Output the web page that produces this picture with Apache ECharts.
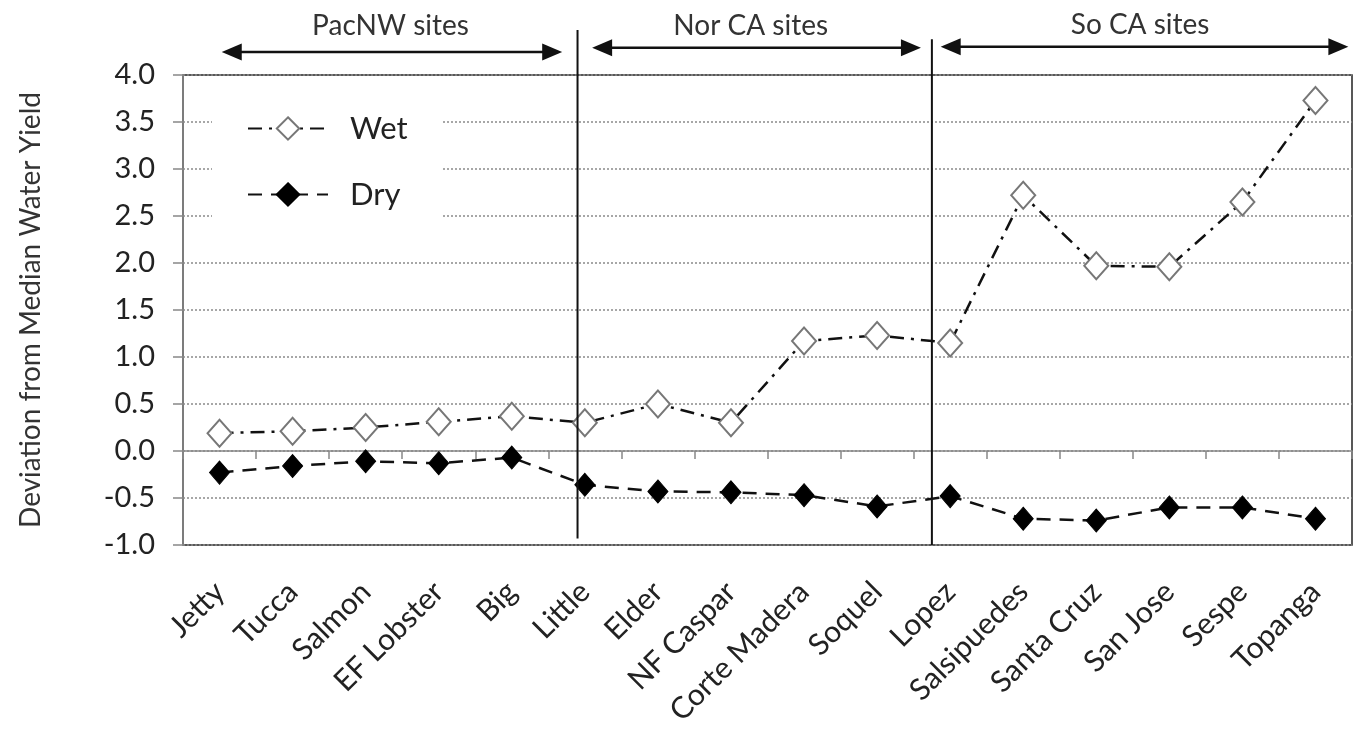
<!DOCTYPE html>
<html>
<head>
<meta charset="utf-8">
<script src="https://cdn.jsdelivr.net/npm/echarts@6/dist/echarts.min.js"></script>
<style>
html,body{margin:0;padding:0;background:#fff;}
#main{width:1363px;height:735px;}
</style>
</head>
<body>
<div id="main"></div>
<script>
// ---- data ----
const categories = ['Jetty','Tucca','Salmon','EF Lobster','Big','Little','Elder','NF Caspar','Corte Madera','Soquel','Lopez','Salsipuedes','Santa Cruz','San Jose','Sespe','Topanga'];
const wetValues = [0.19, 0.21, 0.25, 0.31, 0.37, 0.30, 0.50, 0.30, 1.17, 1.23, 1.15, 2.72, 1.97, 1.96, 2.65, 3.73];
const dryValues = [-0.23, -0.16, -0.11, -0.13, -0.07, -0.36, -0.43, -0.44, -0.47, -0.59, -0.48, -0.72, -0.74, -0.60, -0.60, -0.72];
const yTicks = {min: -1.0, max: 4.0, interval: 0.5};
const yAxisTitle = 'Deviation from Median Water Yield';
// region annotations (in category-index units along x, value units along y)
const groupLabels = ['PacNW sites', 'Nor CA sites', 'So CA sites'];
const groupLabelX = [2.84, 7.77, 13.1];
const groupLabelY = [4.52, 4.52, 4.53];
const groupArrows = [[0.53, 5.19, 4.245], [5.60, 10.10, 4.29], [10.37, 15.95, 4.30]];
const dividers = [[5.40, 4.48, -0.93], [10.25, 4.38, -1.0]];

const FONT = 'Lato';
const chart = echarts.init(document.getElementById('main'));

const option = {
  backgroundColor: '#fff',
  animation: false,
  textStyle: {fontFamily: FONT},
  grid: {left: 183, right: 11, top: 75, bottom: 190, show: true, borderColor: '#222', borderWidth: 1.5, backgroundColor: 'transparent'},
  legend: {
    data: ['Wet', 'Dry'],
    orient: 'vertical',
    left: 212, top: 95,
    padding: [18, 35, 30, 35],
    itemWidth: 80, itemHeight: 28, itemGap: 35,
    backgroundColor: '#fff',
    textStyle: {fontSize: 31, color: '#222', fontFamily: FONT, padding: [0, 0, 0, 17]}
  },
  xAxis: [{
    type: 'category',
    data: categories,
    boundaryGap: true,
    axisLine: {show: true, lineStyle: {color: '#888', width: 1.5}},
    axisTick: {show: true, length: 8, lineStyle: {color: '#888', width: 1.5}},
    axisLabel: {rotate: 45, fontSize: 30, color: '#222', margin: 42, interval: 0, fontFamily: FONT},
    splitLine: {show: false}
  }, {
    type: 'value', min: 0, max: categories.length, show: false, gridIndex: 0
  }],
  yAxis: [{
    type: 'value',
    min: yTicks.min, max: yTicks.max, interval: yTicks.interval,
    name: yAxisTitle,
    nameLocation: 'middle',
    nameGap: 138,
    nameTextStyle: {fontSize: 28, color: '#333', fontFamily: FONT},
    axisLine: {show: true, lineStyle: {color: '#888', width: 1.5}},
    axisTick: {show: true, length: 10, lineStyle: {color: '#888', width: 1.5}},
    axisLabel: {fontSize: 29, color: '#222', margin: 28, fontFamily: FONT, formatter: v => v.toFixed(1)},
    splitLine: {show: true, lineStyle: {color: '#8a8a8a', width: 1.5, type: [2, 2]}}
  }],
  series: [{
    name: 'Wet', type: 'line', data: wetValues,
    symbol: 'diamond', symbolSize: [24, 27],
    lineStyle: {color: '#111', width: 2.5, type: [14, 7, 3, 7]},
    itemStyle: {color: '#fff', borderColor: '#777', borderWidth: 2},
    z: 3
  }, {
    name: 'Dry', type: 'line', data: dryValues,
    symbol: 'diamond', symbolSize: [20, 23],
    lineStyle: {color: '#111', width: 2.5, type: [14, 9]},
    itemStyle: {color: '#000', borderColor: '#000', borderWidth: 1},
    z: 3
  }]
};
chart.setOption(option);

function drawAnnotations() {
  const px = v => chart.convertToPixel({xAxisIndex: 1}, v);
  const py = v => chart.convertToPixel({yAxisIndex: 0}, v);
  const els = [];
  const headL = 20, headH = 8.5;
  groupArrows.forEach(a => {
    const x1 = px(a[0]), x2 = px(a[1]), y = py(a[2]);
    els.push({type: 'line', shape: {x1: x1 + headL - 2, y1: y, x2: x2 - headL + 2, y2: y}, style: {stroke: '#111', lineWidth: 2.5}, z: 10});
    els.push({type: 'polygon', shape: {points: [[x1, y], [x1 + headL, y - headH], [x1 + headL, y + headH]]}, style: {fill: '#111'}, z: 10});
    els.push({type: 'polygon', shape: {points: [[x2, y], [x2 - headL, y - headH], [x2 - headL, y + headH]]}, style: {fill: '#111'}, z: 10});
  });
  groupLabels.forEach((t, i) => {
    els.push({type: 'text', x: px(groupLabelX[i]), y: py(groupLabelY[i]), style: {text: t, fontSize: 28, fontFamily: FONT, fill: '#333', align: 'center', verticalAlign: 'middle'}, z: 10});
  });
  dividers.forEach(d => {
    const x = px(d[0]);
    els.push({type: 'line', shape: {x1: x, y1: py(d[1]), x2: x, y2: py(d[2])}, style: {stroke: '#111', lineWidth: 2}, z: 10});
  });
  chart.setOption({graphic: els});
}
drawAnnotations();
</script>
</body>
</html>
